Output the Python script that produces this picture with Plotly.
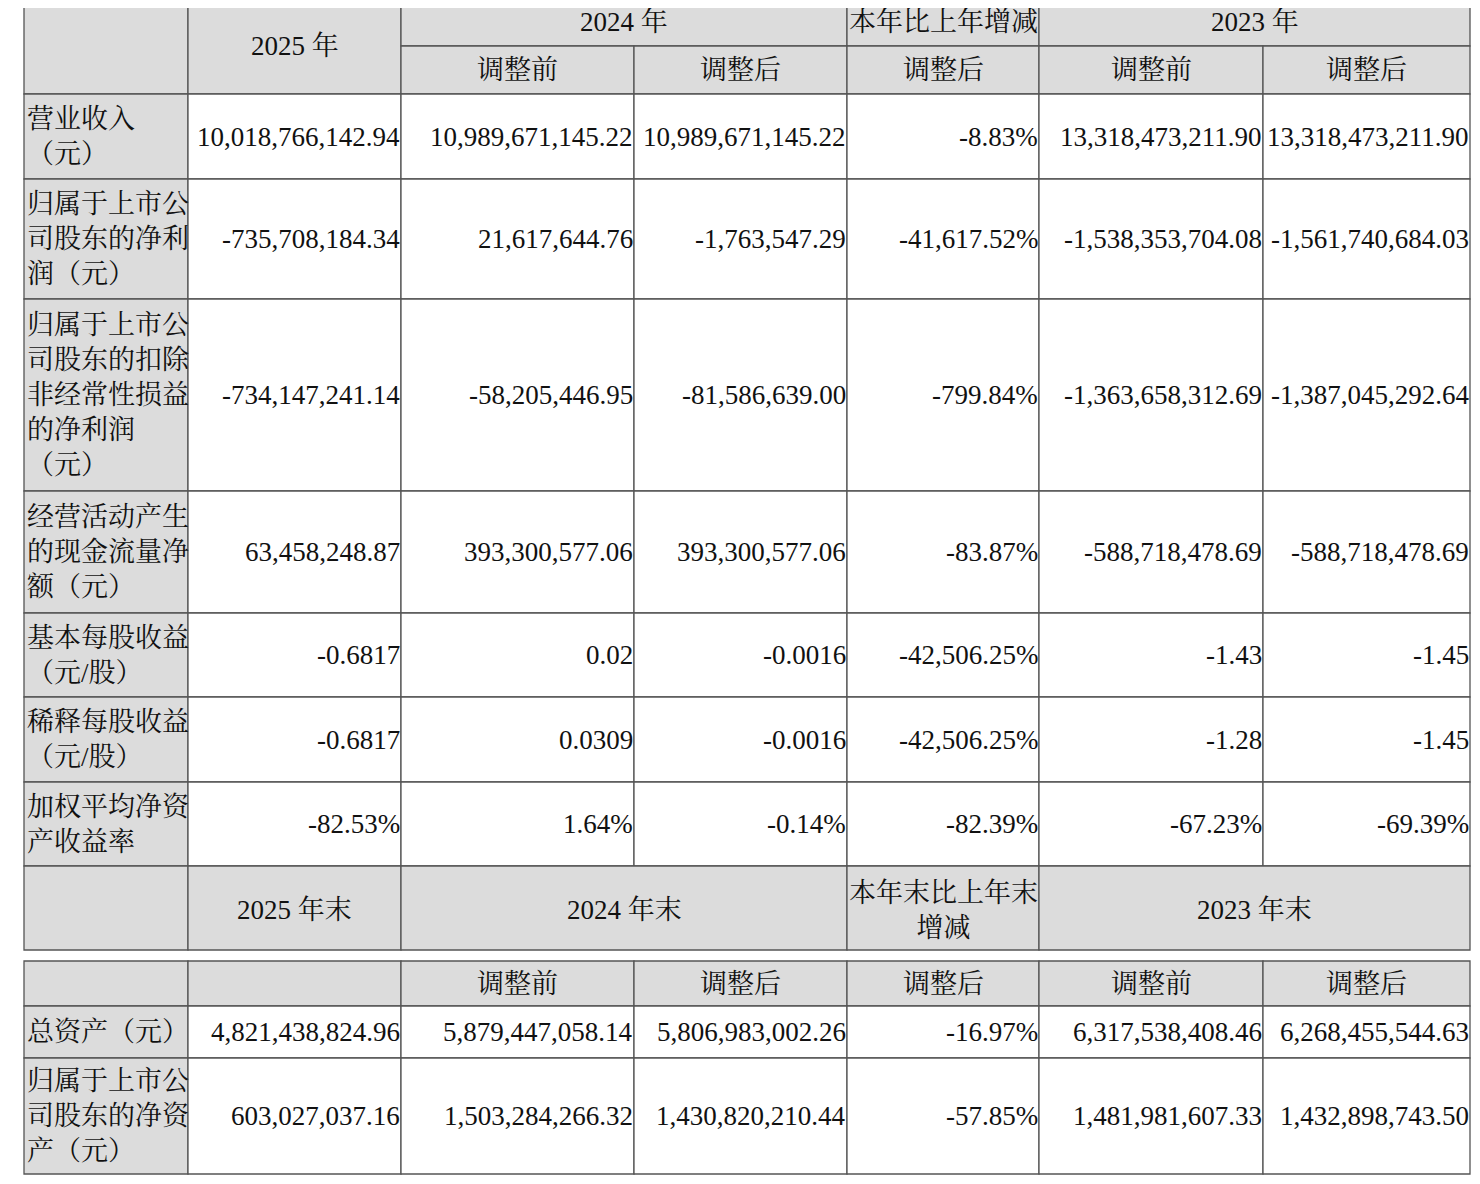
import plotly.graph_objects as go

# ---- data ----
col_edges = [24, 188, 401, 634, 847, 1039, 1263, 1470]
row_labels = ["营业收入<br>（元）", "归属于上市公<br>司股东的净利<br>润（元）",
              "归属于上市公<br>司股东的扣除<br>非经常性损益<br>的净利润<br>（元）",
              "经营活动产生<br>的现金流量净<br>额（元）", "基本每股收益<br>（元/股）",
              "稀释每股收益<br>（元/股）", "加权平均净资<br>产收益率"]
row_values = [
    ["10,018,766,142.94", "10,989,671,145.22", "10,989,671,145.22", "-8.83%", "13,318,473,211.90", "13,318,473,211.90"],
    ["-735,708,184.34", "21,617,644.76", "-1,763,547.29", "-41,617.52%", "-1,538,353,704.08", "-1,561,740,684.03"],
    ["-734,147,241.14", "-58,205,446.95", "-81,586,639.00", "-799.84%", "-1,363,658,312.69", "-1,387,045,292.64"],
    ["63,458,248.87", "393,300,577.06", "393,300,577.06", "-83.87%", "-588,718,478.69", "-588,718,478.69"],
    ["-0.6817", "0.02", "-0.0016", "-42,506.25%", "-1.43", "-1.45"],
    ["-0.6817", "0.0309", "-0.0016", "-42,506.25%", "-1.28", "-1.45"],
    ["-82.53%", "1.64%", "-0.14%", "-82.39%", "-67.23%", "-69.39%"],
]
row_edges = [94, 179, 299, 491, 613, 697, 782, 866]
head1 = ["2025 年", "2024 年", "本年比上年增减", "2023 年"]
sub_head = ["调整前", "调整后", "调整后", "调整前", "调整后"]
head2 = ["2025 年末", "2024 年末", "本年末比上年末<br>增减", "2023 年末"]
t2_labels = ["总资产（元）", "归属于上市公<br>司股东的净资<br>产（元）"]
t2_values = [
    ["4,821,438,824.96", "5,879,447,058.14", "5,806,983,002.26", "-16.97%", "6,317,538,408.46", "6,268,455,544.63"],
    ["603,027,037.16", "1,503,284,266.32", "1,430,820,210.44", "-57.85%", "1,481,981,607.33", "1,432,898,743.50"],
]
t2_edges = [961, 1006, 1058, 1174]

GRAY = "#dcdcdc"
LINE = "#555555"
FONT = "Liberation Serif, Noto Serif CJK SC, Noto Sans CJK SC"
FS = 27

shapes, anns = [], []

def rect(x0, y0, x1, y1, fill):
    shapes.append(dict(type="rect", xref="x", yref="y", x0=x0, x1=x1, y0=y0, y1=y1,
                       fillcolor=fill, line=dict(color=LINE, width=1.3), layer="below"))

def text(x, y, s, anchor):
    anns.append(dict(x=x, y=y, xref="x", yref="y", text=s, showarrow=False,
                     xanchor=anchor, yanchor="middle", align="left" if anchor == "left" else "center",
                     font=dict(family=FONT, size=FS, color="#111")))

C = col_edges
# header table 1
rect(C[0], 1, C[1], 94, GRAY)
rect(C[1], 1, C[2], 94, GRAY); text((C[1]+C[2])/2, 46, head1[0], "center")
rect(C[2], 1, C[4], 46, GRAY); text((C[2]+C[4])/2, 22, head1[1], "center")
rect(C[4], 1, C[5], 46, GRAY); text((C[4]+C[5])/2, 22, head1[2], "center")
rect(C[5], 1, C[7], 46, GRAY); text((C[5]+C[7])/2, 22, head1[3], "center")
for j, s in enumerate(sub_head):
    rect(C[j+2], 46, C[j+3], 94, GRAY); text((C[j+2]+C[j+3])/2, 70, s, "center")

def body(labels, values, edges):
    for i, (lab, vals) in enumerate(zip(labels, values)):
        y0, y1 = edges[i], edges[i+1]
        ym = (y0 + y1) / 2
        rect(C[0], y0, C[1], y1, GRAY); text(C[0]+1, ym, lab, "left")
        for j, v in enumerate(vals):
            rect(C[j+1], y0, C[j+2], y1, "white"); text(C[j+2]+1, ym, v, "right")

body(row_labels, row_values, row_edges)

# second header
y0, y1 = 866, 950
rect(C[0], y0, C[1], y1, GRAY)
rect(C[1], y0, C[2], y1, GRAY); text((C[1]+C[2])/2, 910, head2[0], "center")
rect(C[2], y0, C[4], y1, GRAY); text((C[2]+C[4])/2, 910, head2[1], "center")
rect(C[4], y0, C[5], y1, GRAY); text((C[4]+C[5])/2, 910, head2[2], "center")
rect(C[5], y0, C[7], y1, GRAY); text((C[5]+C[7])/2, 910, head2[3], "center")

# table 2
rect(C[0], t2_edges[0], C[1], t2_edges[1], GRAY)
rect(C[1], t2_edges[0], C[2], t2_edges[1], GRAY)
for j, s in enumerate(sub_head):
    rect(C[j+2], t2_edges[0], C[j+3], t2_edges[1], GRAY)
    text((C[j+2]+C[j+3])/2, (t2_edges[0]+t2_edges[1])/2, s, "center")
body(t2_labels, t2_values, t2_edges[1:])

fig = go.Figure()
fig.add_trace(go.Scatter(x=[8, 1480], y=[8, 1184], mode="markers", marker=dict(opacity=0), hoverinfo="skip"))
fig.update_layout(width=1472, height=1176, margin=dict(l=0, r=0, t=0, b=0),
                  plot_bgcolor="white", paper_bgcolor="white", showlegend=False,
                  shapes=shapes, annotations=anns,
                  xaxis=dict(range=[8, 1480], visible=False, fixedrange=True),
                  yaxis=dict(range=[1184, 8], visible=False, fixedrange=True))
fig.write_html("out.html")
